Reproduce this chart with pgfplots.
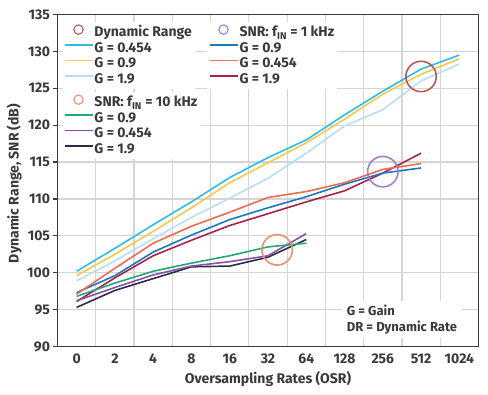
\documentclass[border=0pt]{standalone}
\usepackage{pgfplots}
\pgfplotsset{compat=1.18}
\usepackage{fontspec}
\setmainfont{Fira Sans}
\definecolor{textc}{HTML}{3A3A3A}
\definecolor{axisc}{HTML}{3A3A3A}
\definecolor{gridc}{HTML}{D4D4D4}
\definecolor{cyanc}{HTML}{2EBBE8}
\definecolor{yellc}{HTML}{F5C84C}
\definecolor{lbluec}{HTML}{B7DEF5}
\definecolor{bluec}{HTML}{1C78BE}
\definecolor{orangec}{HTML}{EF6A4F}
\definecolor{crimc}{HTML}{A8234A}
\definecolor{greenc}{HTML}{22A872}
\definecolor{purpc}{HTML}{8A4FB0}
\definecolor{blackc}{HTML}{2D2D45}
\definecolor{drcirc}{HTML}{B55A5A}
\definecolor{snrcirc}{HTML}{A77CC9}
\definecolor{tencirc}{HTML}{EF9070}
\pgfplotsset{
  every axis/.append style={font=\color{textc}\fontsize{14bp}{16bp}\selectfont\bfseries},
  legaxis/.style={width=421bp, height=332bp, scale only axis, hide axis,
    xmin=0, xmax=1, ymin=0, ymax=1,
    legend cell align=left,
    legend image code/.code={\draw[##1] (0bp,3.8bp) -- (28bp,3.8bp);},
    legend style={draw=none, fill=white, inner sep=2bp, anchor=north west,
      row sep=0pt, column sep=0pt,
      nodes={inner sep=1.2bp, text height=10bp, text depth=3bp},
      font=\color{textc}\fontsize{14bp}{16bp}\selectfont\bfseries}},
}
\pgfplotstableread{
x dra drb drc sa sb sc ta tb tc
0 100.2 99.6 98.9 97.3 97.1 96.1 96.8 96.2 95.3
1 103.3 102.5 101.6 99.6 100.6 99.3 98.6 98.0 97.6
2 106.5 105.6 104.6 102.8 104.0 102.3 100.2 99.7 99.2
3 109.6 108.8 107.5 105.1 106.3 104.4 101.3 100.9 100.8
4 112.9 112.2 110.1 107.2 108.2 106.4 102.3 101.5 100.9
5 115.6 114.9 112.8 108.8 110.2 108.0 103.5 102.3 102.1
6 118.0 117.6 116.2 110.3 111.0 109.6 104.0 105.3 104.5
7 121.4 120.8 119.9 112.0 112.2 111.1 nan nan nan
8 124.6 124.2 122.1 113.5 114.0 113.5 nan nan nan
9 127.6 126.9 126.0 114.2 114.8 116.2 nan nan nan
10 129.5 129.0 128.3 nan nan nan nan nan nan
}\datatab
\begin{document}
\begin{tikzpicture}
\path[use as bounding box] (-57.5bp,-48bp) rectangle (430.5bp,346.5bp);
\begin{axis}[
  width=421bp, height=332bp, scale only axis,
  xmin=-0.5, xmax=10.5, ymin=90, ymax=135,
  xtick={0,...,10},
  xticklabels={0,2,4,8,16,32,64,128,256,512,1024},
  minor xtick={0.5,1.5,...,9.5},
  ytick={90,95,...,135},
  xminorgrids=true, ymajorgrids=true, xmajorgrids=false,
  major grid style={gridc, line width=1.2bp},
  minor grid style={gridc, line width=1.2bp},
  axis line style={axisc, line width=1.6bp},
  tick align=outside, tick pos=left,
  xtick style={draw=none}, minor tick length=0pt,
  ytick style={axisc, line width=1.2bp}, major tick length=4bp,
  /pgf/number format/assume math mode=true,
  unbounded coords=jump,
  xlabel={Oversampling Rates (OSR)},
  ylabel={Dynamic Range, SNR (dB)},
  xlabel style={at={(axis description cs:0.5,-0.0973)}, anchor=center},
  ylabel style={at={(axis description cs:-0.103,0.491)}, anchor=center},
  every axis plot/.append style={line width=1.6bp},
]
\addplot[lbluec] table[x=x, y=drc] {\datatab};
\addplot[yellc] table[x=x, y=drb] {\datatab};
\addplot[cyanc] table[x=x, y=dra] {\datatab};
\addplot[crimc] table[x=x, y=sc] {\datatab};
\addplot[bluec] table[x=x, y=sa] {\datatab};
\addplot[orangec] table[x=x, y=sb] {\datatab};
\addplot[blackc] table[x=x, y=tc] {\datatab};
\addplot[purpc] table[x=x, y=tb] {\datatab};
\addplot[greenc] table[x=x, y=ta] {\datatab};
\addplot[drcirc, only marks, mark=o, mark size=15.2bp, mark options={line width=1.6bp}] coordinates {(9,126.6)};
\addplot[snrcirc, only marks, mark=o, mark size=15.2bp, mark options={line width=1.6bp}] coordinates {(8,113.7)};
\addplot[tencirc, only marks, mark=o, mark size=15.2bp, mark options={line width=1.6bp}] coordinates {(5.24,103.1)};
\node[fill=white, anchor=south west, align=left, inner xsep=5bp, inner ysep=4bp,
  font=\color{textc}\fontsize{13bp}{15.5bp}\selectfont\bfseries]
  at (axis description cs:0.675,0.024) {G = Gain\\DR = Dynamic Rate};
\end{axis}
% legend block 1
\begin{axis}[legaxis, legend style={at={(axis description cs:0.0095,0.977)}}]
\addlegendimage{legend image code/.code={\draw[drcirc, line width=1.1bp] (14bp,3.8bp) circle (4.7bp);}}
\addlegendentry{Dynamic Range}
\addlegendimage{cyanc, line width=1.6bp}
\addlegendentry{G = 0.454}
\addlegendimage{yellc, line width=1.6bp}
\addlegendentry{G = 0.9}
\addlegendimage{lbluec, line width=1.6bp}
\addlegendentry{G = 1.9}
\end{axis}
% legend block 2
\begin{axis}[legaxis, legend style={at={(axis description cs:0.354,0.977)}}]
\addlegendimage{legend image code/.code={\draw[snrcirc, line width=1.1bp] (14bp,3.8bp) circle (4.7bp);}}
\addlegendentry{SNR: f\textsubscript{IN} = 1 kHz}
\addlegendimage{bluec, line width=1.6bp}
\addlegendentry{G = 0.9}
\addlegendimage{orangec, line width=1.6bp}
\addlegendentry{G = 0.454}
\addlegendimage{crimc, line width=1.6bp}
\addlegendentry{G = 1.9}
\end{axis}
% legend block 3
\begin{axis}[legaxis, legend style={at={(axis description cs:0.0095,0.766)}}]
\addlegendimage{legend image code/.code={\draw[tencirc, line width=1.1bp] (14bp,3.8bp) circle (4.7bp);}}
\addlegendentry{SNR: f\textsubscript{IN} = 10 kHz}
\addlegendimage{greenc, line width=1.6bp}
\addlegendentry{G = 0.9}
\addlegendimage{purpc, line width=1.6bp}
\addlegendentry{G = 0.454}
\addlegendimage{blackc, line width=1.6bp}
\addlegendentry{G = 1.9}
\end{axis}
\end{tikzpicture}
\end{document}
